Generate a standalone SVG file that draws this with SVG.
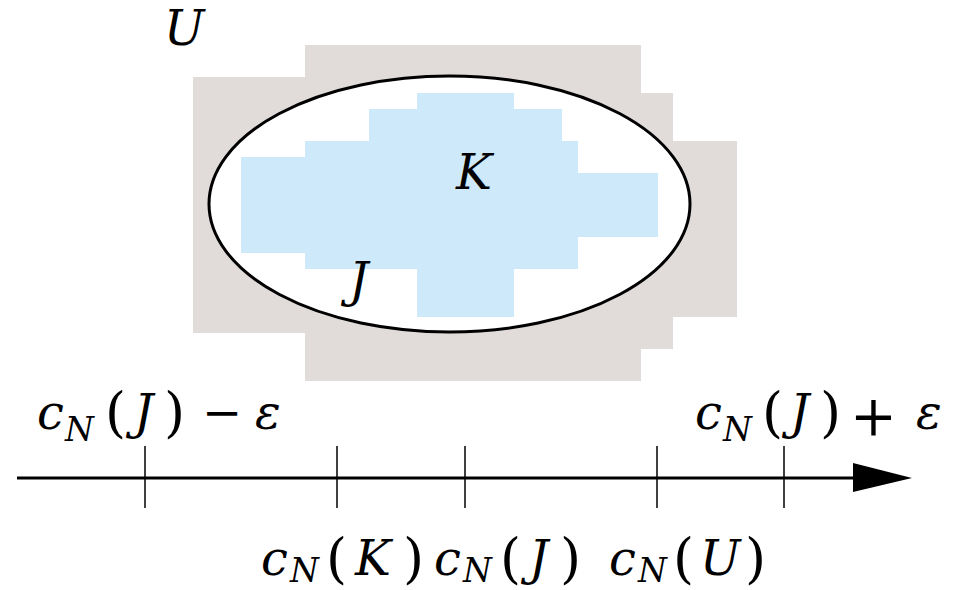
<svg xmlns="http://www.w3.org/2000/svg" width="956" height="590" viewBox="0 0 956 590">
<style>
text{font-family:'DejaVu Serif',serif;font-size:48px;fill:#000}
.i{font-style:italic}
.s{font-style:italic;font-size:33px}
.p{font-size:54px}
.tick{stroke:#000;stroke-width:1.5}
</style>
<rect width="956" height="590" fill="#fff"/>
<g id="U">
<polygon points="305,45 641,45 641,93 673,93 673,141 737,141 737,317 673,317 673,349 641,349 641,381 305,381 305,333 193,333 193,77 305,77" fill="#e1dbda"/>
<text class="i" x="164" y="45">U</text>
</g>
<g id="J">
<ellipse cx="449.5" cy="204" rx="240.5" ry="128" fill="#fff" stroke="#000" stroke-width="3"/>
</g>
<g id="K">
<polygon points="417,93 514,93 514,109 562,109 562,141 578,141 578,173 658,173 658,237 578,237 578,269 514,269 514,317 417,317 417,269 305,269 305,253 241,253 241,157 305,157 305,141 369,141 369,109 417,109" fill="#cde9fa"/>
<text class="i" x="456" y="189">K</text>
</g>
<g id="J-label">
<text class="i" x="349" y="297">J</text>
</g>
<g id="connectors">
<line x1="17" y1="478" x2="856" y2="478" stroke="#000" stroke-width="3"/>
<polygon points="853,463 912,478 853,492" fill="#000"/>
<line class="tick" x1="145" y1="446" x2="145" y2="508"/>
<line class="tick" x1="337" y1="446" x2="337" y2="508"/>
<line class="tick" x1="465" y1="446" x2="465" y2="508"/>
<line class="tick" x1="657" y1="446" x2="657" y2="508"/>
<line class="tick" x1="784" y1="446" x2="784" y2="508"/>
</g>
<g id="labels">
<text><tspan class="i" x="37" y="429">c</tspan><tspan class="s" x="65" y="441">N</tspan><tspan class="p" x="105" y="431">(</tspan><tspan class="i" x="134" y="429">J</tspan><tspan class="p" x="164" y="431">)</tspan><tspan x="202" y="429">−</tspan><tspan class="i" x="255" y="429">ε</tspan></text>
<text><tspan class="i" x="695" y="429">c</tspan><tspan class="s" x="723" y="441">N</tspan><tspan class="p" x="762" y="431">(</tspan><tspan class="i" x="790" y="429">J</tspan><tspan class="p" x="820" y="431">)</tspan><tspan x="850" y="435" style="font-size:56px">+</tspan><tspan class="i" x="916" y="429">ε</tspan></text>
<text><tspan class="i" x="261" y="575">c</tspan><tspan class="s" x="290" y="582">N</tspan><tspan class="p" x="326" y="577">(</tspan><tspan class="i" x="355" y="575">K</tspan><tspan class="p" x="403" y="577">)</tspan><tspan class="i" x="434" y="575">c</tspan><tspan class="s" x="463" y="582">N</tspan><tspan class="p" x="500" y="577">(</tspan><tspan class="i" x="529" y="575">J</tspan><tspan class="p" x="560" y="577">)</tspan><tspan class="i" x="609" y="575">c</tspan><tspan class="s" x="638" y="582">N</tspan><tspan class="p" x="673" y="577">(</tspan><tspan class="i" x="700" y="575">U</tspan><tspan class="p" x="745" y="577">)</tspan></text>
</g>
</svg>
